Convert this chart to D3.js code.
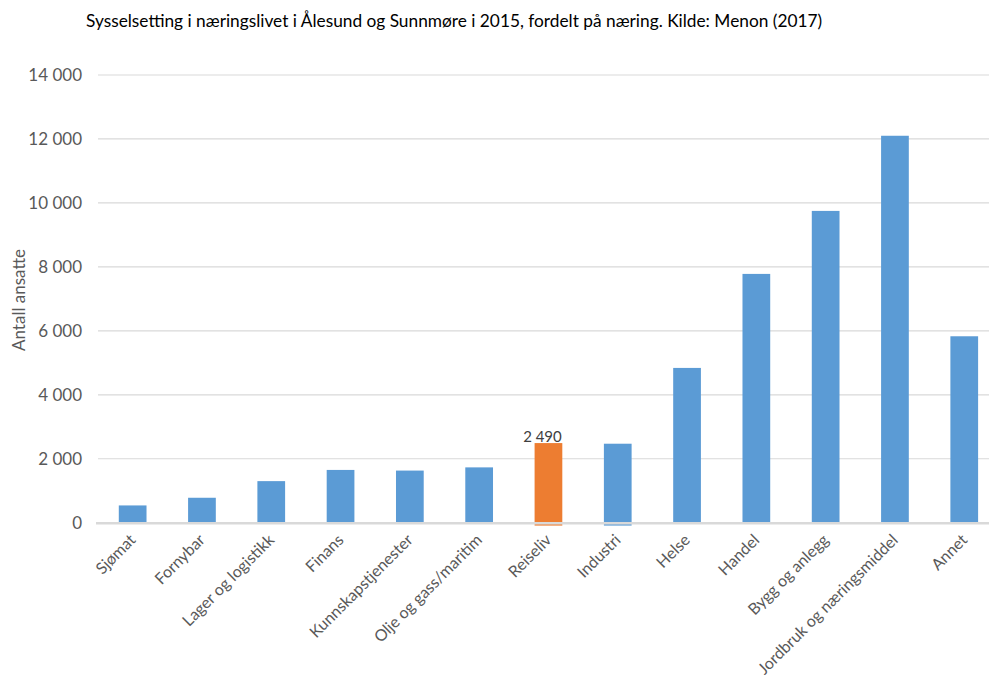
<!DOCTYPE html>
<html>
<head>
<meta charset="utf-8">
<script src="https://cdn.jsdelivr.net/npm/d3@7"></script>
<style>
  body { margin: 0; background: #fff; }
  text { font-family: Lato, "Open Sans", sans-serif; }
</style>
</head>
<body>
<svg width="989" height="675"></svg>
<script>
// categories and values
var categories = ["Sjømat", "Fornybar", "Lager og logistikk", "Finans", "Kunnskapstjenester",
    "Olje og gass/maritim", "Reiseliv", "Industri", "Helse", "Handel", "Bygg og anlegg",
    "Jordbruk og næringsmiddel", "Annet"];
var ansatte = [540, 780, 1300, 1650, 1630, 1730, 2490, 2470, 4840, 7780, 9750, 12100, 5830];
// small negative part under the axis (Reiseliv, Industri)
var negativ = [0, 0, 0, 0, 0, 0, -90, -90, 0, 0, 0, 0, 0];
var highlight = "Reiseliv";
var yTicks = [0, 2000, 4000, 6000, 8000, 10000, 12000, 14000];

var svg = d3.select("svg"),
    margin = {top: 75, left: 98, bottom: 152},
    height = 675;

var x = d3.scaleBand()
    .domain(categories)
    .range([margin.left, margin.left + 69.3 * categories.length])
    .paddingInner(0.6)
    .paddingOuter(0.3);

var y = d3.scaleLinear()
    .domain([0, 14000])
    .range([522.7, margin.top]);

var fmt = function(v) { return d3.format(",")(v).replace(/,/g, " "); };

// title
svg.append("text")
    .attr("x", 86)
    .attr("y", 27)
    .style("font-size", "17.3px")
    .style("fill", "#000")
    .text("Sysselsetting i næringslivet i Ålesund og Sunnmøre i 2015, fordelt på næring. Kilde: Menon (2017)");

// gridlines
svg.append("g")
    .selectAll("line")
    .data(yTicks.filter(function(d) { return d > 0; }))
    .enter().append("line")
    .attr("x1", 98).attr("x2", 989)
    .attr("y1", function(d) { return y(d); })
    .attr("y2", function(d) { return y(d); })
    .attr("stroke", "#d9d9d9")
    .attr("stroke-width", 1.2);

// y axis labels
svg.append("g")
    .selectAll("text")
    .data(yTicks)
    .enter().append("text")
    .attr("x", 82)
    .attr("y", function(d) { return y(d); })
    .attr("dy", "0.35em")
    .attr("text-anchor", "end")
    .style("font-size", "17px")
    .style("fill", "#595959")
    .text(fmt);

svg.append("text")
    .attr("transform", "translate(25,300) rotate(-90)")
    .attr("text-anchor", "middle")
    .style("font-size", "17px")
    .style("fill", "#595959")
    .text("Antall ansatte");

// bars
var bars = svg.append("g");
bars.selectAll("rect.pos")
    .data(categories)
    .enter().append("rect")
    .attr("class", "pos")
    .attr("x", function(d) { return x(d); })
    .attr("width", x.bandwidth())
    .attr("y", function(d, i) { return y(ansatte[i]); })
    .attr("height", function(d, i) { return y(0) - y(ansatte[i]); })
    .attr("fill", function(d) { return d === highlight ? "#ed7d31" : "#5b9bd5"; });

bars.selectAll("rect.neg")
    .data(categories.filter(function(d, i) { return negativ[i] < 0; }))
    .enter().append("rect")
    .attr("class", "neg")
    .attr("x", function(d) { return x(d); })
    .attr("width", x.bandwidth())
    .attr("y", y(0))
    .attr("height", function(d) { return y(negativ[categories.indexOf(d)]) - y(0); })
    .attr("fill", function(d) { return d === highlight ? "#ed7d31" : "#5b9bd5"; });

// axis line
svg.append("line")
    .attr("x1", 96).attr("x2", 989)
    .attr("y1", y(0) + 0.5).attr("y2", y(0) + 0.5)
    .attr("stroke", "#d9d9d9")
    .attr("stroke-width", 2.5);

// data label
svg.append("text")
    .attr("x", x(highlight) + x.bandwidth() / 2 - 6)
    .attr("y", y(ansatte[categories.indexOf(highlight)]) - 1)
    .attr("text-anchor", "middle")
    .style("font-size", "15px")
    .style("fill", "#404040")
    .text(fmt(ansatte[categories.indexOf(highlight)]));

// category labels
svg.append("g")
    .selectAll("text")
    .data(categories)
    .enter().append("text")
    .attr("transform", function(d) {
        return "translate(" + (x(d) + x.bandwidth() / 2 + 4) + "," + 541 + ") rotate(-45)";
    })
    .attr("text-anchor", "end")
    .style("font-size", "16px")
    .style("fill", "#595959")
    .text(function(d) { return d; });
</script>
</body>
</html>
